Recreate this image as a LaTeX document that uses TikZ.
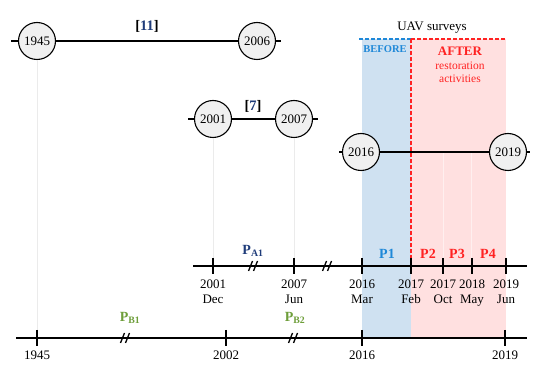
\documentclass[tikz,border=0pt]{standalone}
\usepackage{fontspec}
\setmainfont{Liberation Serif}
\usepackage{xcolor}
\usepackage{tikz}
\usetikzlibrary{positioning,calc}
\definecolor{refblue}{HTML}{1F3C7A}
\definecolor{uavblue}{HTML}{1E88D8}
\definecolor{uavred}{HTML}{FF2222}
\definecolor{pgreen}{HTML}{6E9E3A}
\definecolor{bandblue}{HTML}{CFE1F1}
\definecolor{bandpink}{HTML}{FFE0E0}
\definecolor{circfill}{HTML}{F0F0F0}

\begin{document}
\begin{tikzpicture}[x=1pt, y=-1pt,
  every node/.style={font=\fontsize{13}{15}\selectfont},
  yearcirc/.style={draw, line width=1.1pt, circle, fill=circfill, minimum size=37pt, inner sep=0pt},
  axis/.style={line width=1.5pt},
  guide/.style={black!8, line width=0.5pt},
  plabel/.style={font=\fontsize{14}{16}\selectfont\bfseries},
  reflabel/.style={font=\fontsize{14.5}{16}\selectfont\bfseries},
  ticklab/.style={align=center, anchor=north, inner sep=1pt},
  brkmark/.style={line width=1.3pt}]
  \useasboundingbox (0,0) rectangle (550,374);

  % survey periods
  \fill[bandblue] (362,39) rectangle (411,338);
  \fill[bandpink] (411,39) rectangle (506,338);
  \foreach \x in {443,471}
    \draw[white, opacity=0.5, line width=0.6pt] (\x,152) -- (\x,258);

  % anchor points of the two time axes
  \coordinate (aL) at (193,266);
  \coordinate (aR) at (527,266);
  \coordinate (bL) at (16,338);
  \coordinate (bR) at (527,338);

  % literature periods
  \node[yearcirc] (c1945) at (37,41) {1945};
  \node[yearcirc] (c2006) at (257,41) {2006};
  \node[yearcirc] (c2001) at (213,119) {2001};
  \node[yearcirc] (c2007) at (294,119) {2007};
  \node[yearcirc] (c2016) at (361,152) {2016};
  \node[yearcirc] (c2019) at (508,152) {2019};
  \coordinate (r1L) at (11,41);
  \coordinate (r1R) at (281,41);
  \coordinate (r2L) at (188,119);
  \coordinate (r2R) at (318,119);
  \coordinate (r3L) at (339,152);
  \coordinate (r3R) at (530,152);

  \draw[guide] (c1945.south) -- (37,338);
  \draw[guide] (c2001.south) -- (213,266);
  \draw[guide] (c2007.south) -- (294,266);

  \draw[axis] (r1L) -- (c1945) -- (c2006) -- (r1R);
  \draw[axis] (r2L) -- (c2001) -- (c2007) -- (r2R);
  \draw[axis] (r3L) -- (c2016) -- (c2019) -- (r3R);

  \node[reflabel] (ref11) at (147,26) {[\textcolor{refblue}{11}]};
  \node[reflabel] (ref7) at (253,106) {[\textcolor{refblue}{7}]};

  % UAV surveys
  \coordinate (uavL) at (359,39);
  \coordinate (uavM) at (411,39);
  \coordinate (uavR) at (505,39);
  \node (uav) at (432,28) {UAV surveys};
  \draw[uavblue, line width=1.2pt, dash pattern=on 4pt off 2pt] (uavL) -- (uavM);
  \draw[uavred, line width=1.2pt, dash pattern=on 4pt off 2pt] (uavM) -- (uavR);
  \draw[uavred, line width=1.2pt, dash pattern=on 4pt off 2pt] (uavM) -- (411,266);
  \node[font=\fontsize{10.5}{12}\selectfont\bfseries, text=uavblue] (before) at (385,49) {BEFORE};
  \node[font=\fontsize{13}{15}\selectfont\bfseries, text=uavred] (after) at (460,51) {AFTER};
  \node[font=\fontsize{11.5}{13.5}\selectfont, text=uavred, align=center] (restor) at (460,72.5) {restoration\\activities};

  % time axis A
  \draw[axis] (aL) -- (aR);
  \foreach \x/\yr/\mo in {213/2001/Dec, 294/2007/Jun, 362/2016/Mar, 411/2017/Feb, 443/2017/Oct, 472/2018/May, 506/2019/Jun} {
    \coordinate (a\yr\mo) at (\x,266);
    \draw[axis] ($(a\yr\mo)+(0,-8)$) -- ($(a\yr\mo)+(0,8)$);
    \node[ticklab] (la\yr\mo) at ($(a\yr\mo)+(0,13)$) {\yr\\\mo};
  }
  \foreach \bx in {253,327}
    \draw[brkmark] (\bx-4.5,271) -- (\bx-0.5,261) (\bx+0.5,271) -- (\bx+4.5,261);
  \node[plabel, text=refblue] (pa1) at (253,251) {P\textsubscript{A1}};
  \node[plabel, text=uavblue] (p1) at (387,254) {P1};
  \node[plabel, text=uavred] (p2) at (428,254) {P2};
  \node[plabel, text=uavred] (p3) at (457,254) {P3};
  \node[plabel, text=uavred] (p4) at (488,254) {P4};

  % time axis B
  \draw[axis] (bL) -- (bR);
  \foreach \x/\yr in {37/1945, 226/2002, 362/2016, 505/2019} {
    \coordinate (b\yr) at (\x,338);
    \draw[axis] ($(b\yr)+(0,-8)$) -- ($(b\yr)+(0,8)$);
    \node[ticklab] (lb\yr) at ($(b\yr)+(0,12)$) {\yr};
  }
  \foreach \bx in {125,293}
    \draw[brkmark] (\bx-4.5,343) -- (\bx-0.5,333) (\bx+0.5,343) -- (\bx+4.5,333);
  \node[plabel, text=pgreen] (pb1) at (130,318) {P\textsubscript{B1}};
  \node[plabel, text=pgreen] (pb2) at (295,318) {P\textsubscript{B2}};
\end{tikzpicture}
\end{document}
